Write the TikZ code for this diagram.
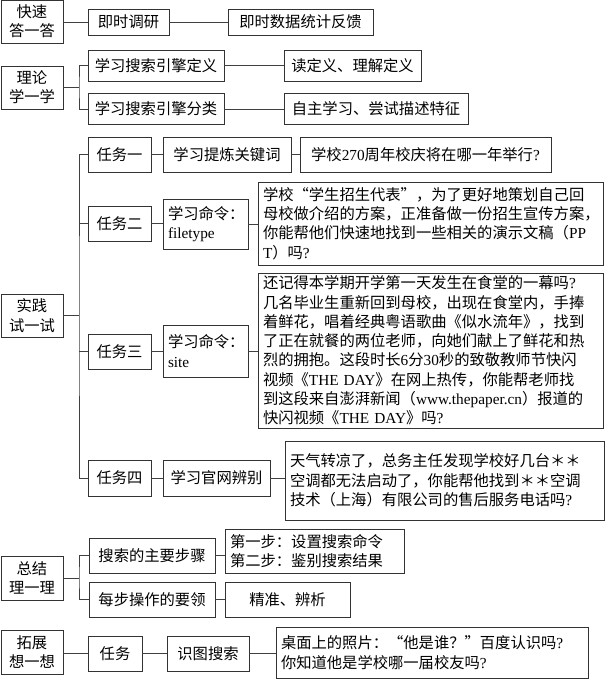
\documentclass[tikz,border=0pt]{standalone}
\usepackage{fontspec}
\setmainfont{Noto Sans CJK SC}
\newfontfamily\lat{Liberation Serif}
\newcommand\LT[1]{{\lat #1}}
\begin{document}
\begin{tikzpicture}[x=1pt,y=-1pt,
  bx/.style={draw=black!80, line width=0.8pt, inner sep=0pt, font=\fontsize{15.3}{19.3}\selectfont, align=center},
  bxl/.style={bx, align=left, inner xsep=5pt, text width=#1},
  ln/.style={draw=black!75, line width=0.9pt}]
\fill[white] (0,0) rectangle (610,680);
\useasboundingbox (0,0) rectangle (610,680);
% row A
\node[bx, minimum width=62, minimum height=43] (qa) at (32,21.5) {快速\\答一答};
\node[bx, minimum width=81, minimum height=26] (qa1) at (128.5,22) {即时调研};
\node[bx, minimum width=145, minimum height=26] (qa2) at (300.5,22) {即时数据统计反馈};
% row B
\node[bx, minimum width=62, minimum height=43] (th) at (32,87.5) {理论\\学一学};
\node[bx, minimum width=136, minimum height=31] (th1) at (156,65.5) {学习搜索引擎定义};
\node[bx, minimum width=137, minimum height=31] (th2) at (352.5,65.5) {读定义、理解定义};
\node[bx, minimum width=136, minimum height=31] (th3) at (156,109) {学习搜索引擎分类};
\node[bx, minimum width=184, minimum height=31] (th4) at (376,109) {自主学习、尝试描述特征};
% row C
\node[bx, minimum width=62, minimum height=43] (sj) at (32,315.5) {实践\\试一试};
\node[bx, minimum width=63, minimum height=35] (t1) at (119.5,154.5) {任务一};
\node[bx, minimum width=128, minimum height=35] (t1a) at (227,154.5) {学习提炼关键词};
\node[bx, minimum width=251, minimum height=35] (t1b) at (425.5,154.5) {学校\LT{270}周年校庆将在哪一年举行\LT{?}};
\node[bx, minimum width=63, minimum height=35] (t2) at (119.5,223.5) {任务二};
\node[bxl=75, minimum height=50] (t2a) at (205.5,224) {学习命令：\\\LT{filetype}};
\node[bxl=335, minimum height=83] (t2b) at (430.5,223.5) {学校“学生招生代表”，为了更好地策划自己回\\母校做介绍的方案，正准备做一份招生宣传方案，\\你能帮他们快速地找到一些相关的演示文稿（\LT{PP}\\\LT{T}）吗\LT{?}};
\node[bx, minimum width=63, minimum height=35] (t3) at (119.5,351.5) {任务三};
\node[bxl=75, minimum height=52] (t3a) at (205.5,351) {学习命令：\\\LT{site}};
\node[bxl=335, minimum height=155] (t3b) at (430.5,350.5) {还记得本学期开学第一天发生在食堂的一幕吗\LT{?}\\几名毕业生重新回到母校，出现在食堂内，手捧\\着鲜花，唱着经典粤语歌曲《似水流年》，找到\\了正在就餐的两位老师，向她们献上了鲜花和热\\烈的拥抱。这段时长\LT{6}分\LT{30}秒的致敬教师节快闪\\视频《\LT{THE DAY}》在网上热传，你能帮老师找\\到这段来自澎湃新闻（\LT{www.thepaper.cn}）报道的\\快闪视频《\LT{THE DAY}》吗\LT{?}};
\node[bx, minimum width=63, minimum height=36] (t4) at (119.5,478) {任务四};
\node[bx, minimum width=107, minimum height=36] (t4a) at (216.5,478) {学习官网辨别};
\node[bxl=309, minimum height=79] (t4b) at (444.5,480.5) {天气转凉了，总务主任发现学校好几台＊＊\\空调都无法启动了，你能帮他找到＊＊空调\\技术（上海）有限公司的售后服务电话吗\LT{?}};
% row D
\node[bx, minimum width=62, minimum height=44] (zj) at (32,578) {总结\\理一理};
\node[bx, minimum width=126, minimum height=35] (zj1) at (152,555.5) {搜索的主要步骤};
\node[bxl=169, minimum height=44] (zj2) at (314.5,551) {第一步：设置搜索命令\\第二步：鉴别搜索结果};
\node[bx, minimum width=126, minimum height=35] (zj3) at (152,599.5) {每步操作的要领};
\node[bx, minimum width=125, minimum height=35] (zj4) at (287.5,599.5) {精准、辨析};
% row E
\node[bx, minimum width=62, minimum height=44] (tz) at (32,652) {拓展\\想一想};
\node[bx, minimum width=54, minimum height=35] (tz1) at (115,653.5) {任务};
\node[bx, minimum width=82, minimum height=35] (tz2) at (208,653.5) {识图搜索};
\node[bxl=302, minimum height=51] (tz3) at (432,652.5) {桌面上的照片：“他是谁？”百度认识吗\LT{?}\\你知道他是学校哪一届校友吗\LT{?}};
% connectors
\coordinate (thb) at (79,87.5);
\coordinate (sjb) at (79,315.5);
\coordinate (zjb) at (79,578);
\draw[ln] (qa1.west -| qa.east) -- (qa1.west);
\draw[ln] (qa1.east) -- (qa2.west);
\draw[ln] (th.east) -- (thb);
\draw[ln] (th1.west) -| (thb) |- (th3.west);
\draw[ln] (th1.east) -- (th2.west);
\draw[ln] (th3.east) -- (th4.west);
\draw[ln] (sj.east) -- (sjb);
\draw[ln] (t1.west) -| (sjb) |- (t4.west);
\draw[ln] (t2.west) -- (t2.west -| sjb);
\draw[ln] (t3.west) -- (t3.west -| sjb);
\draw[ln] (t1.east) -- (t1a.west);
\draw[ln] (t1a.east) -- (t1b.west);
\draw[ln] (t2.east) -- (t2.east -| t2a.west);
\draw[ln] (t2a.east) -- (t2a.east -| t2b.west);
\draw[ln] (t3.east) -- (t3.east -| t3a.west);
\draw[ln] (t3a.east) -- (t3a.east -| t3b.west);
\draw[ln] (t4.east) -- (t4a.west);
\draw[ln] (t4a.east) -- (t4a.east -| t4b.west);
\draw[ln] (zj.east) -- (zjb);
\draw[ln] (zj1.west) -| (zjb) |- (zj3.west);
\draw[ln] (zj1.east) -- (zj1.east -| zj2.west);
\draw[ln] (zj3.east) -- (zj4.west);
\draw[ln] (tz.east |- tz1.west) -- (tz1.west);
\draw[ln] (tz1.east) -- (tz2.west);
\draw[ln] (tz2.east) -- (tz2.east -| tz3.west);
\end{tikzpicture}
\end{document}
